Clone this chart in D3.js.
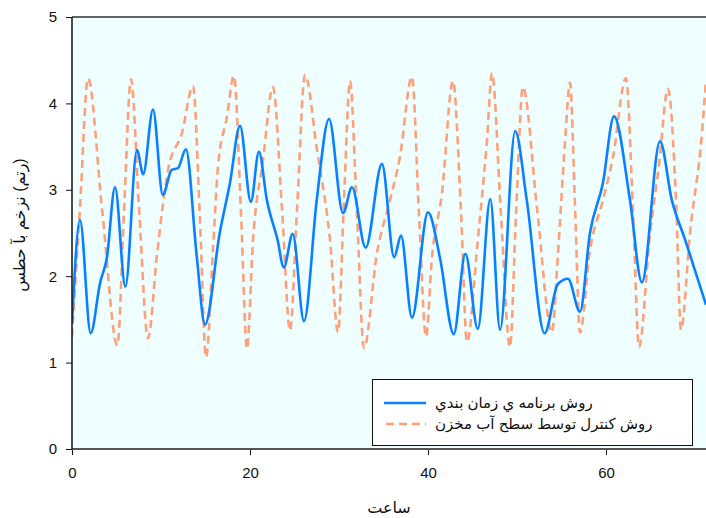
<!DOCTYPE html>
<html>
<head>
<meta charset="utf-8">
<script src="https://cdn.jsdelivr.net/npm/d3@7"></script>
<style>
  html, body { margin: 0; padding: 0; background: #ffffff; }
  text { font-family: "Liberation Sans", Arial, "DejaVu Sans", sans-serif; }
</style>
</head>
<body>
<svg id="chart" width="706" height="518"></svg>
<script>
// ---- data (hours, reservoir level in metres) ----
const schedHours = [0, 0.9, 2.1, 3.15, 3.93, 4.83, 6.0, 7.3, 8.0, 9.1, 10.2, 11.2, 11.9, 12.8, 14.0, 14.94,
  16.6, 17.75, 18.88, 20.1, 21.0, 21.9, 23.1, 23.8, 24.8, 26.07, 27.5, 28.88, 30.45, 31.46, 33.0, 34.83,
  36.2, 36.97, 38.2, 40.0, 41.35, 42.9, 44.2, 45.6, 47.0, 48.1, 49.8, 51.1, 53.1, 54.6, 55.73, 57.08,
  58.2, 59.66, 60.9, 62.7, 64.04, 66.07, 67.4, 68.9, 71.24];
const schedLevel = [1.45, 2.65, 1.34, 1.92, 2.22, 3.03, 1.88, 3.46, 3.18, 3.93, 2.94, 3.23, 3.25, 3.47, 2.25, 1.44,
  2.5, 3.08, 3.74, 2.86, 3.44, 2.88, 2.42, 2.1, 2.49, 1.48, 2.88, 3.82, 2.73, 3.03, 2.33, 3.3,
  2.22, 2.47, 1.52, 2.74, 2.21, 1.33, 2.26, 1.39, 2.89, 1.38, 3.68, 2.88, 1.34, 1.91, 1.97, 1.59,
  2.5, 3.08, 3.85, 2.88, 1.93, 3.56, 2.88, 2.42, 1.67];

const ctrlHours = [0, 0.9, 1.8, 3.4, 5.1, 5.84, 6.63, 7.53, 8.54, 9.55, 10.79, 12.36, 13.6, 14.38, 15.06,
  15.84, 16.4, 17.4, 18.2, 19.0, 19.66, 20.34, 21.46, 22.58, 23.6, 24.5, 25.28, 26.18, 27.53, 28.99, 29.89,
  30.56, 31.24, 32.0, 32.81, 34.27, 35.73, 36.85, 38.2, 38.99, 39.78, 40.45, 41.57, 42.81, 43.7, 44.38,
  45.6, 46.63, 47.19, 48.2, 49.21, 49.89, 50.67, 52.25, 53.93, 54.6, 55.39, 55.96, 56.52, 57.08,
  58.2, 59.66, 60.79, 62.25, 63.03, 63.71, 64.94, 65.96, 66.97, 67.87, 68.43, 69.44, 70.79, 71.24];
const ctrlLevel = [1.30, 2.8, 4.29, 2.75, 1.20, 2.74, 4.28, 2.79, 1.28, 2.25, 3.23, 3.66, 4.2, 2.65, 1.06,
  2.3, 3.26, 3.84, 4.32, 2.7, 1.16, 2.42, 3.34, 4.19, 2.77, 1.37, 2.77, 4.33, 3.46, 2.42, 1.35,
  2.88, 4.26, 2.77, 1.17, 2.27, 2.88, 3.38, 4.31, 2.71, 1.3, 2.22, 2.96, 4.26, 2.77, 1.24,
  2.42, 3.58, 4.35, 2.71, 1.18, 2.71, 4.19, 2.79, 1.35, 2.25, 3.54, 4.24, 2.82, 1.35,
  2.3, 2.88, 3.38, 4.29, 2.77, 1.18, 2.48, 3.29, 4.17, 2.88, 1.38, 2.5, 3.66, 4.27];

const xTicks = [0, 20, 40, 60];
const yTicks = [0, 1, 2, 3, 4, 5];
const seriesNames = ["روش برنامه ي زمان بندي", "روش کنترل توسط سطح آب مخزن"];
const xLabel = "ساعت";
const yLabel = "سطح آب مخزن (متر)";

// ---- layout ----
const svg = d3.select("#chart");
const L = 72, R = 706, T = 17, B = 449;
const x = d3.scaleLinear().domain([0, 71.24]).range([L, R]);
const y = d3.scaleLinear().domain([0, 5]).range([B, T]);

svg.append("rect").attr("x", L).attr("y", T).attr("width", R - L).attr("height", B - T)
  .attr("fill", "#efffff");

svg.append("clipPath").attr("id", "clip")
  .append("rect").attr("x", L).attr("y", T - 2).attr("width", R - L).attr("height", B - T + 4);

const line = d3.line().x(d => x(d[0])).y(d => y(d[1])).curve(d3.curveMonotoneX);
const ctrl = ctrlHours.map((h, i) => [h, ctrlLevel[i]]);
const sched = schedHours.map((h, i) => [h, schedLevel[i]]);

const g = svg.append("g").attr("clip-path", "url(#clip)");
g.append("path").datum(ctrl).attr("d", line).attr("fill", "none")
  .attr("stroke", "#ffa07a").attr("stroke-width", 2.6).attr("stroke-dasharray", "8,5");
g.append("path").datum(sched).attr("d", line).attr("fill", "none")
  .attr("stroke", "#0a80ff").attr("stroke-width", 2.6);

// ---- axes ----
const xAxis = svg.append("g").attr("transform", `translate(0,${B})`)
  .call(d3.axisBottom(x).tickValues(xTicks).tickSize(6).tickPadding(12).tickFormat(d3.format("d")));
xAxis.select(".domain").remove();
xAxis.selectAll("text").attr("font-size", 15).attr("fill", "#111");
xAxis.selectAll("line").attr("stroke", "#111");

const yAxis = svg.append("g").attr("transform", `translate(${L},0)`)
  .call(d3.axisLeft(y).tickValues(yTicks).tickSize(6).tickPadding(9).tickFormat(d3.format("d")));
yAxis.select(".domain").remove();
yAxis.selectAll("text").attr("font-size", 15).attr("fill", "#111");
yAxis.selectAll("line").attr("stroke", "#111");

// frame lines
svg.append("line").attr("x1", L).attr("x2", R).attr("y1", T).attr("y2", T)
  .attr("stroke", "#333").attr("stroke-width", 1.5);
svg.append("line").attr("x1", L).attr("x2", R).attr("y1", B).attr("y2", B)
  .attr("stroke", "#555").attr("stroke-width", 2);
svg.append("line").attr("x1", L).attr("x2", L).attr("y1", T).attr("y2", B)
  .attr("stroke", "#111").attr("stroke-width", 1.5);

// labels
svg.append("text").attr("x", (L + R) / 2).attr("y", 513).attr("text-anchor", "middle")
  .attr("font-size", 16).attr("fill", "#111").text(xLabel);
svg.append("text").attr("transform", "translate(25,225) rotate(-90)").attr("text-anchor", "middle")
  .attr("font-size", 16).attr("fill", "#111")
  .style("direction", "ltr").style("unicode-bidi", "bidi-override").text(yLabel);

// ---- legend ----
const lg = svg.append("g");
lg.append("rect").attr("x", 372.5).attr("y", 379.5).attr("width", 320).attr("height", 66)
  .attr("fill", "#ffffff").attr("stroke", "#111").attr("stroke-width", 1);
const legendStyles = [{ c: "#0a80ff", d: null }, { c: "#ffa07a", d: "8,5" }];
seriesNames.forEach((name, i) => {
  const yy = 403 + i * 21;
  const ln = lg.append("line").attr("x1", 384).attr("x2", 426).attr("y1", yy).attr("y2", yy)
    .attr("stroke", legendStyles[i].c).attr("stroke-width", 2.6);
  if (legendStyles[i].d) ln.attr("stroke-dasharray", legendStyles[i].d).attr("stroke-dashoffset", -2);
  lg.append("text").attr("x", 435).attr("y", yy + 5).attr("font-size", 15).attr("fill", "#111")
    .attr("text-anchor", "start").text(name);
});
</script>
</body>
</html>
